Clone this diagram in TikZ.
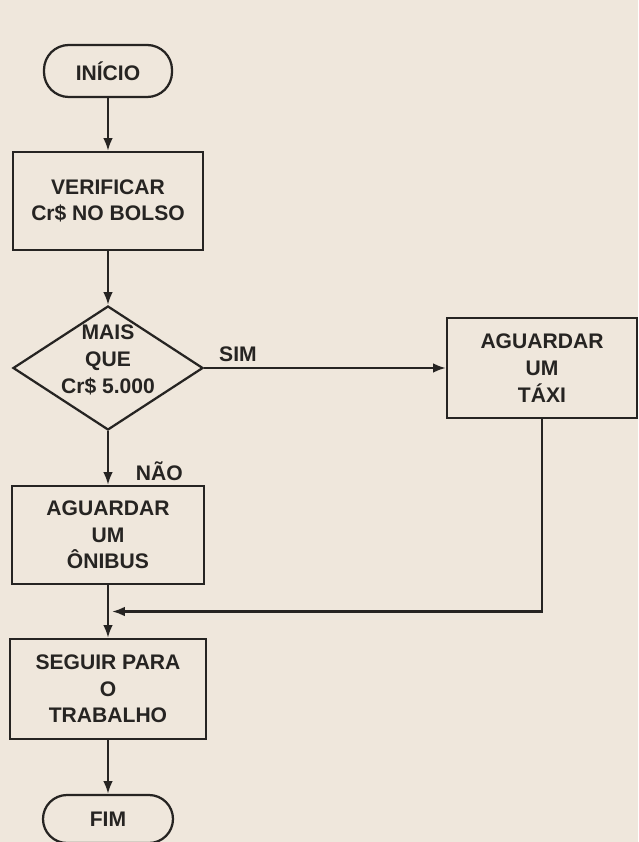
\documentclass[tikz,border=0pt]{standalone}
\usepackage{fontspec}
\setmainfont{Liberation Sans}
\usetikzlibrary{shapes.geometric, arrows.meta, positioning}
\definecolor{paper}{HTML}{EFE7DC}
\definecolor{ink}{HTML}{262422}

\begin{document}
\begin{tikzpicture}[node distance=3.25cm, font=\fontsize{15}{19}\selectfont\bfseries, text=ink]

	% --- STYLES ---
	\tikzstyle{startstop} = [rectangle, rounded corners=0.62cm, minimum width=3.2cm, minimum height=1.3cm, align=center, draw=ink, line width=1.6pt]
	\tikzstyle{process} = [rectangle, minimum width=4.75cm, minimum height=2.45cm, align=center, draw=ink, line width=1.6pt]
	\tikzstyle{decision} = [diamond, minimum width=4.75cm, minimum height=3.1cm, inner sep=0pt, draw=ink, line width=1.6pt]
	\tikzstyle{arrow} = [line width=1.6pt, draw=ink, -{Latex[length=3.2mm, width=2.4mm]}]

	% --- PAGE ---
	\fill[paper] (-2.7,1.775) rectangle (13.25,-19.275);
	\useasboundingbox (-2.7,1.775) rectangle (13.25,-19.275);

	% --- NODES ---

	% 1. Start
	\node (inicio) [startstop] {INÍCIO};

	% 2. Check the pocket
	\node (verificar) [process, below of=inicio] {VERIFICAR\\Cr\$ NO BOLSO};

	% 3. Decision
	\node (mais) [decision, below of=verificar, yshift=-0.925cm,
		label={[align=center, yshift=0.2cm]center:MAIS\\QUE\\Cr\$ 5.000}] {};

	% 4. Branch: yes -> taxi
	\node (taxi) [process, right of=mais, xshift=7.6cm, minimum height=2.5cm] {AGUARDAR\\UM\\TÁXI};

	% 5. Branch: no -> bus
	\node (onibus) [process, below of=mais, yshift=-0.925cm, minimum width=4.8cm] {AGUARDAR\\UM\\ÔNIBUS};

	% 6. Go to work
	\node (seguir) [process, below of=onibus, yshift=-0.6cm, minimum width=4.9cm, minimum height=2.5cm] {SEGUIR PARA\\O\\TRABALHO};

	% 7. End
	\node (fim) [startstop, below of=seguir, rounded corners=0.6cm, minimum width=3.25cm, minimum height=1.2cm] {FIM};

	% merge point
	\path (onibus.south) -- coordinate[midway] (merge) (seguir.north);

	% --- ARROWS ---
	\draw [arrow] (inicio) -- (verificar);
	\draw [arrow] (verificar) -- (mais);
	\draw [arrow] (mais) -- node[pos=0.74, right=0.55cm] {NÃO} (onibus);
	\draw [arrow] (mais) -- node[pos=0.14, above] {SIM} (taxi);
	\draw [arrow, shorten >=0.1cm] (taxi.south) |- (merge);
	\draw [arrow] (onibus) -- (seguir);
	\draw [arrow] (seguir) -- (fim);

\end{tikzpicture}
\end{document}
